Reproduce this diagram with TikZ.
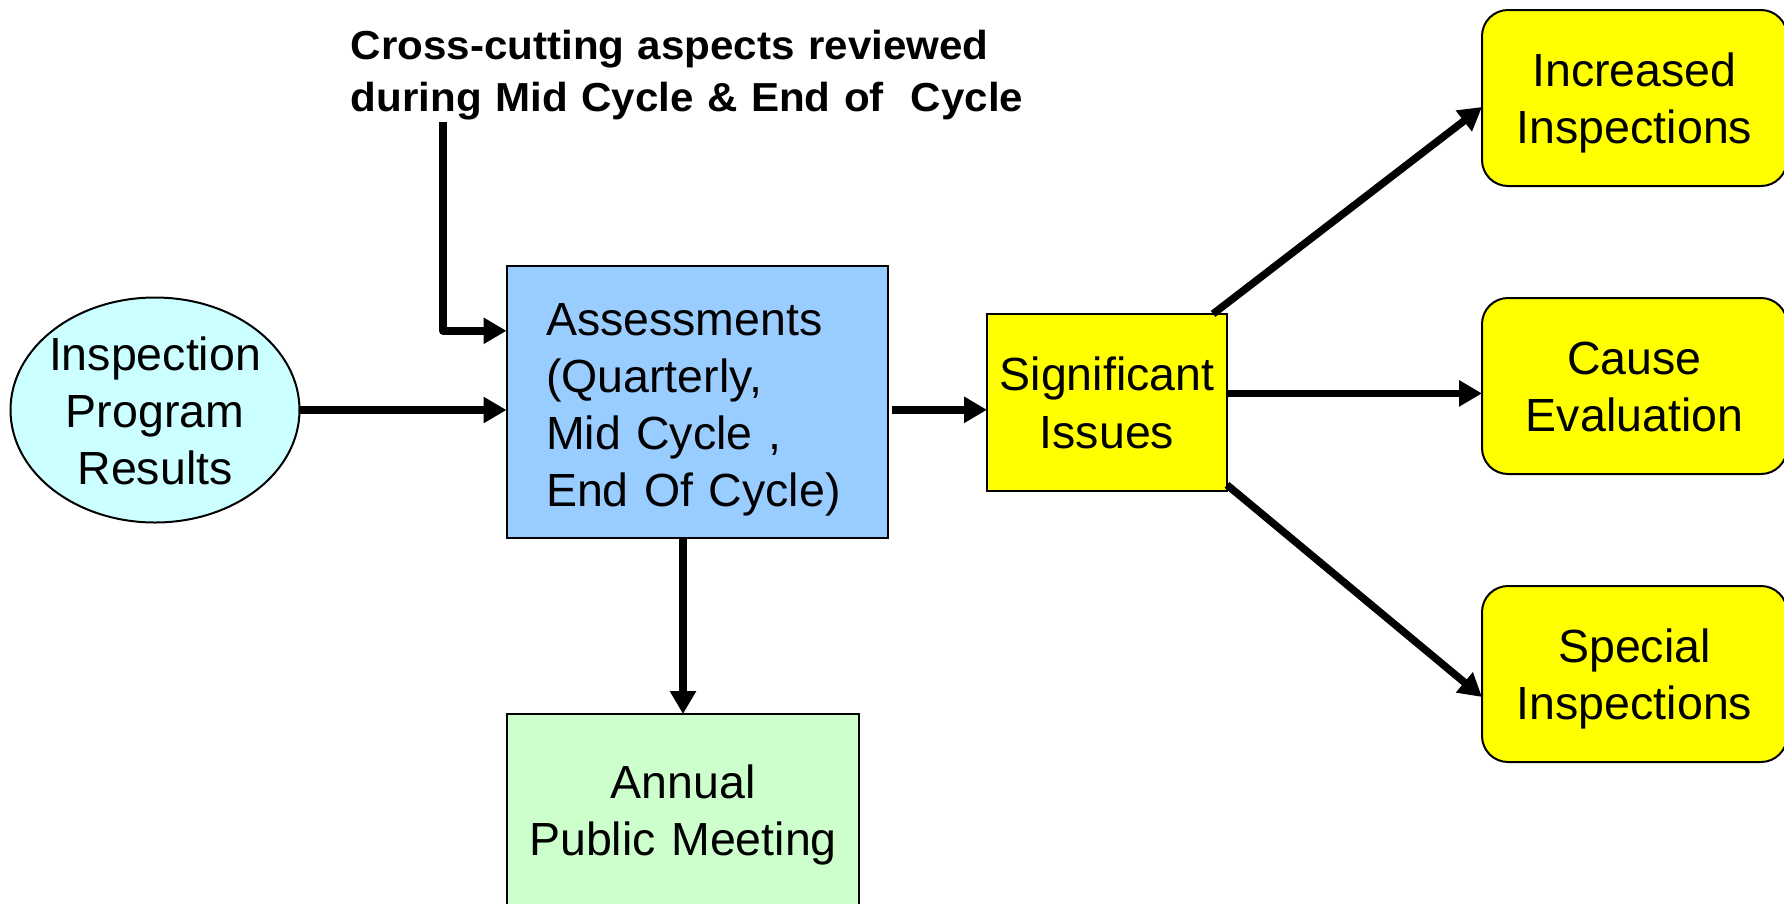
\documentclass[tikz,border=0pt]{standalone}
\usepackage{fontspec}
\setmainfont{Liberation Sans}
\newfontfamily\crossfont{Liberation Sans Bold}[FakeStretch=1.04]
\usetikzlibrary{arrows.meta,shapes.geometric}
\definecolor{cyanfill}{HTML}{CCFFFF}
\definecolor{assessfill}{HTML}{99CCFF}
\definecolor{yellowfill}{HTML}{FFFF00}
\definecolor{annfill}{HTML}{CCFFCC}
\begin{document}
\begin{tikzpicture}[x=1pt,y=-1pt,
  box/.style={draw=black, line width=2pt, inner sep=0pt, outer sep=0pt},
  lbl/.style={font=\fontsize{46.5}{57.3}\selectfont, align=center},
  rbox/.style={box, lbl, fill=yellowfill, rounded corners=26pt,
    minimum width=305pt, minimum height=176pt,
    text width=290pt, text height=0pt, text depth=24pt},
  conn/.style={line width=7.5pt, line join=round, -{Triangle[length=23pt,width=25pt]}},
]
\useasboundingbox (0,0) rectangle (1784,903);

% nodes
\node[box, ellipse, fill=cyanfill, minimum width=289pt, minimum height=225pt] (ipr) at (155,410) {};
\node[lbl, inner sep=0pt, text width=230pt, text height=0pt, text depth=80pt] (iprt) at (ipr.center) {Inspection\\Program\\Results};

\node[box, lbl, align=left, fill=assessfill, minimum width=381pt, minimum height=271.5pt,
  text width=302pt, text height=0pt, text depth=133.6pt] (ass) at (697,401.8)
  {Assessments\\(Quarterly,\\Mid Cycle ,\\End Of Cycle)};

\node[box, lbl, fill=yellowfill, minimum width=240pt, minimum height=177pt,
  text width=236pt, text height=0pt, text depth=23.4pt] (sig) at (1107,402.4)
  {Significant\\Issues};

\node[rbox] (inc) at (1634.5,98) {Increased\\Inspections};
\node[rbox] (cause) at (1634.5,386) {Cause\\Evaluation};
\node[rbox] (spec) at (1634.5,674) {Special\\Inspections};

\node[box, lbl, fill=annfill, minimum width=352pt, minimum height=192pt,
  text width=340pt, text height=0pt, text depth=24pt] (ann) at (683,810)
  {Annual\\Public Meeting};

\node[inner sep=0pt, anchor=base west, text width=700pt, align=left,
  font=\crossfont\fontsize{40.5}{52.4}\selectfont] (cross) at (350.5,59.3)
  {Cross-cutting aspects reviewed\\during Mid Cycle \& End of\ \ Cycle};

% connectors
\coordinate (ccs) at (443,122);
\draw[conn] (ccs) |- ([yshift=71pt]ass.west);
\draw[conn] (ipr.east) -- (ipr.east -| ass.west);
\coordinate (a2) at ([xshift=4pt,yshift=-8pt]ass.east);
\draw[conn] (a2) -- (a2 -| sig.west);
\draw[conn] (ass.south -| ann.north) -- (ann.north);
\draw[conn] ([xshift=-14pt]sig.north east) -- ([yshift=-9pt]inc.west);
\coordinate (s2) at ([yshift=9pt]sig.east);
\draw[conn] (s2) -- (s2 -| cause.west);
\draw[conn] ([yshift=6pt]sig.south east) -- ([yshift=-23pt]spec.west);
\end{tikzpicture}
\end{document}
